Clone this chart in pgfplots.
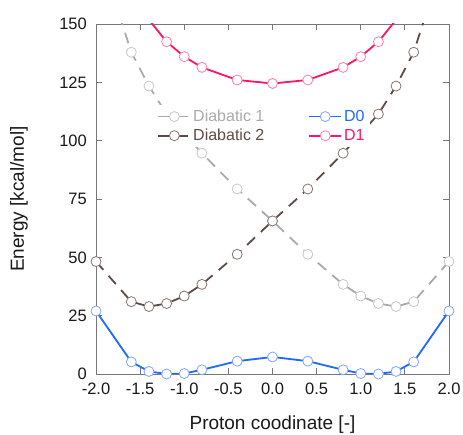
\documentclass[border=0pt]{standalone}
\usepackage{pgfplots}
\pgfplotsset{compat=1.18}
\usepackage{fontspec}
\setmainfont{Liberation Sans}
\definecolor{dzero}{RGB}{30,105,255}
\definecolor{dzeromk}{RGB}{125,165,255}
\definecolor{done}{RGB}{255,20,105}
\definecolor{donemk}{RGB}{255,125,165}
\definecolor{diaone}{RGB}{170,170,170}
\definecolor{diaonemk}{RGB}{200,200,200}
\definecolor{diatwo}{RGB}{95,75,68}
\definecolor{diatwomk}{RGB}{135,118,112}
\definecolor{axgray}{RGB}{120,120,120}
\begin{document}
\begin{tikzpicture}
\begin{axis}[
  at={(0,0)}, anchor=south west,
  scale only axis, width=353pt, height=350pt,
  xmin=-2, xmax=2, ymin=0, ymax=150,
  xtick={-2,-1.5,-1,-0.5,0,0.5,1,1.5,2},
  ytick={0,25,50,75,100,125,150},
  /pgf/number format/assume math mode=true,
  tick align=inside, major tick length=6pt,
  ticklabel style={font=\fontsize{16.5}{19}\selectfont, text=black!90, inner sep=0pt},
  xticklabel style={yshift=-9pt, /pgf/number format/.cd, fixed, fixed zerofill, precision=1},
  yticklabel style={xshift=-9pt},
  axis line style={axgray, line width=0.8pt},
  every tick/.style={axgray, line width=0.8pt},
  xlabel={Proton coodinate [-]},
  ylabel={Energy [kcal/mol]},
  label style={font=\fontsize{19}{22}\selectfont, text=black!90},
  xlabel style={at={(axis description cs:0.5,-0.16)}, anchor=base},
  ylabel style={at={(axis description cs:-0.204,0.5)}, anchor=base},
  legend columns=2,
  legend cell align=left,
  legend style={at={(axis description cs:0.165,0.769)}, anchor=north west,
    draw=none, fill=white, inner sep=3pt,
    font=\fontsize{16}{19}\selectfont,
    /tikz/every even column/.append style={column sep=42pt},
    row sep=2pt},
  legend image code/.code={\draw[mark repeat=2,mark phase=2] plot coordinates {(0pt,0pt)(16pt,0pt)(32pt,0pt)};},
  every axis plot/.append style={line width=1.8pt},
]
\addplot[color=diaone, dash pattern=on 11pt off 8pt, mark=*, mark size=5pt,
  mark options={solid, fill=white, draw=diaonemk, line width=0.8pt}]
  coordinates {(-2,185)(-1.6,137.9)(-1.4,123.4)(-1.2,111.4)(-1.0,103)(-0.8,94.6)(-0.4,79.3)(0,65.6)(0.4,51.3)(0.8,38.4)(1.0,33.4)(1.2,30.2)(1.4,28.9)(1.6,31.0)(2.0,48.2)};
\addlegendentry{\textcolor{diaone}{Diabatic 1}}
\addplot[color=dzero, mark=*, mark size=5pt,
  mark options={solid, fill=white, draw=dzeromk, line width=0.8pt}]
  coordinates {(-2,27.0)(-1.6,5.2)(-1.4,1.1)(-1.2,0)(-1.0,0.2)(-0.8,1.8)(-0.4,5.5)(0,7.3)(0.4,5.5)(0.8,1.8)(1.0,0.2)(1.2,0)(1.4,1.1)(1.6,5.2)(2,27.0)};
\addlegendentry{\textcolor{dzero}{D0}}
\addplot[color=diatwo, dash pattern=on 11pt off 8pt, mark=*, mark size=5pt,
  mark options={solid, fill=white, draw=diatwomk, line width=0.8pt}]
  coordinates {(-2,48.2)(-1.6,31.0)(-1.4,28.9)(-1.2,30.2)(-1.0,33.4)(-0.8,38.4)(-0.4,51.3)(0,65.6)(0.4,79.3)(0.8,94.6)(1.0,103)(1.2,111.4)(1.4,123.4)(1.6,137.9)(2.0,185)};
\addlegendentry{\textcolor{diatwo}{Diabatic 2}}
\addplot[color=done, mark=*, mark size=5pt,
  mark options={solid, fill=white, draw=donemk, line width=0.8pt}]
  coordinates {(-2,200)(-1.6,165)(-1.4,151.8)(-1.2,142.4)(-1.0,136.0)(-0.8,131.4)(-0.4,126.0)(0,124.5)(0.4,126.0)(0.8,131.4)(1.0,136.0)(1.2,142.4)(1.4,151.8)(1.6,165)(2,200)};
\addlegendentry{\textcolor{done}{D1}}
\end{axis}
\pgfresetboundingbox
\path (-96pt,-61pt) rectangle (367pt,374pt);
\end{tikzpicture}
\end{document}
